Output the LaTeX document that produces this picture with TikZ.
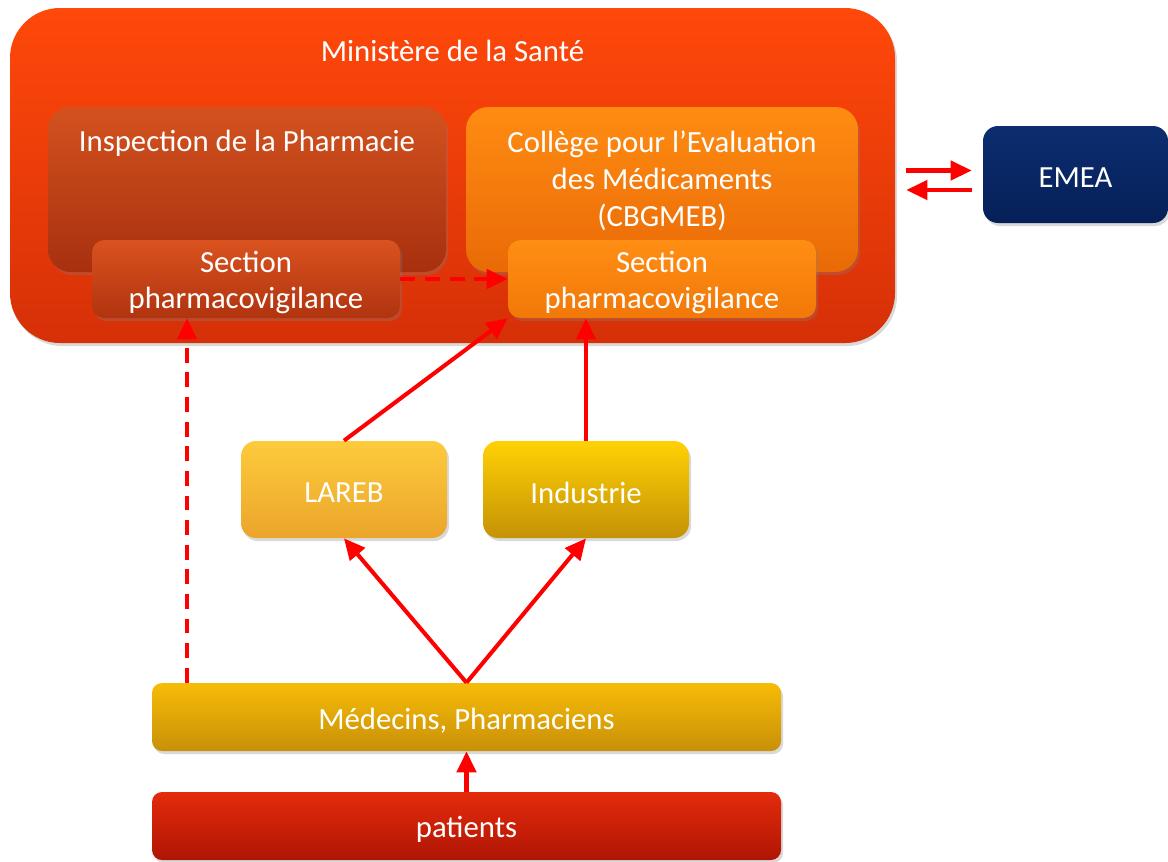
\documentclass[tikz,border=0pt]{standalone}
\usepackage{fontspec}
\setmainfont{Carlito}
\usetikzlibrary{arrows.meta,shadows,calc}

\definecolor{minTop}{HTML}{FF480A}
\definecolor{minBot}{HTML}{D63008}
\definecolor{inspTop}{HTML}{D3521F}
\definecolor{inspBot}{HTML}{A8300F}
\definecolor{collTop}{HTML}{FF8C12}
\definecolor{collBot}{HTML}{E96A06}
\definecolor{secTopA}{HTML}{DA521F}
\definecolor{secBotA}{HTML}{B0340F}
\definecolor{secTopB}{HTML}{FF8E14}
\definecolor{secBotB}{HTML}{F27808}
\definecolor{emeaTop}{HTML}{0C2D70}
\definecolor{emeaBot}{HTML}{062058}
\definecolor{larebTop}{HTML}{FDCB3C}
\definecolor{larebBot}{HTML}{EBA52B}
\definecolor{indTop}{HTML}{FFD104}
\definecolor{indBot}{HTML}{C59206}
\definecolor{medTop}{HTML}{F7BC07}
\definecolor{medBot}{HTML}{C89008}
\definecolor{patTop}{HTML}{E42B0C}
\definecolor{patBot}{HTML}{AF1504}

\tikzset{
  box/.style={rounded corners=0.3cm, inner sep=0pt,
    drop shadow={shadow xshift=0.04cm, shadow yshift=-0.06cm, opacity=0.3}},
  label text/.style={text=white, align=center, font=\fontsize{17.5}{21}\selectfont},
  in box/.style={label text, yshift=-0.07cm},
  redarrow/.style={draw=red, line width=2.3pt, -{Triangle[length=12pt,width=11pt]}},
  dasharrow/.style={redarrow, dash pattern=on 8.5pt off 5.5pt},
}

\begin{document}
\begin{tikzpicture}
    \useasboundingbox (0,0) rectangle (23.36,-17.22);

    % boites
    \node[box, rounded corners=1cm, top color=minTop, bottom color=minBot,
          minimum width=17.7cm, minimum height=6.7cm] (mins) at (9.05,-3.51) {};
    \node[box, rounded corners=0.45cm, top color=inspTop, bottom color=inspBot,
          minimum width=7.96cm, minimum height=3.3cm] (insp) at (4.94,-3.79) {};
    \node[box, rounded corners=0.45cm, top color=collTop, bottom color=collBot,
          minimum width=7.84cm, minimum height=3.3cm] (coll) at (13.24,-3.79) {};
    \node[box, rounded corners=0.25cm, top color=secTopA, bottom color=secBotA,
          minimum width=6.16cm, minimum height=1.56cm,
          label={[in box]center:Section\\pharmacovigilance}] (secl) at (4.92,-5.58) {};
    \node[box, rounded corners=0.25cm, top color=secTopB, bottom color=secBotB,
          minimum width=6.16cm, minimum height=1.56cm,
          label={[in box]center:Section\\pharmacovigilance}] (secr) at (13.24,-5.58) {};
    \node[box, top color=emeaTop, bottom color=emeaBot,
          minimum width=3.7cm, minimum height=1.94cm,
          label={[in box]center:EMEA}] (emea) at (21.51,-3.49) {};
    \node[box, top color=larebTop, bottom color=larebBot,
          minimum width=4.12cm, minimum height=1.94cm,
          label={[in box]center:LAREB}] (lareb) at (6.88,-9.79) {};
    \node[box, top color=indTop, bottom color=indBot,
          minimum width=4.12cm, minimum height=1.94cm,
          label={[in box]center:Industrie}] (ind) at (11.72,-9.79) {};
    \node[box, rounded corners=0.2cm, top color=medTop, bottom color=medBot,
          minimum width=12.58cm, minimum height=1.36cm,
          label={[in box]center:Médecins, Pharmaciens}] (med) at (9.33,-14.34) {};
    \node[box, rounded corners=0.2cm, top color=patTop, bottom color=patBot,
          minimum width=12.58cm, minimum height=1.36cm,
          label={[in box]center:patients}] (pat) at (9.33,-16.52) {};

    % titres
    \node[label text] (minsT) at ([yshift=-0.86cm]mins.north) {Ministère de la Santé};
    \node[label text] (inspT) at ([yshift=-0.73cm]insp.north) {Inspection de la Pharmacie};
    \node[label text] (collT) at ([yshift=-1.48cm]coll.north)
          {Collège pour l’Evaluation\\des Médicaments\\(CBGMEB)};

    \coordinate (pv) at ([xshift=-1.18cm]secl.south);

    % fleches
    \draw[redarrow, shorten <=0.22cm, shorten >=0.22cm]
        ([yshift=0.1cm]mins.east) -- ([yshift=0.1cm]mins.east -| emea.west);
    \draw[redarrow, shorten <=0.22cm, shorten >=0.22cm]
        ([yshift=-0.29cm]mins.east -| emea.west) -- ([yshift=-0.29cm]mins.east);
    \draw[dasharrow] (secl.east) -- (secr.west);
    \draw[dasharrow] (med.north -| pv) -- (pv);
    \draw[redarrow] (lareb.north) -- (secr.south west);
    \draw[redarrow] (ind.north) -- (ind.north |- secr.south);
    \draw[redarrow] (med.north) -- (lareb.south);
    \draw[redarrow] (med.north) -- (ind.south);
    \draw[redarrow] (pat.north) -- (med.south);
\end{tikzpicture}
\end{document}
